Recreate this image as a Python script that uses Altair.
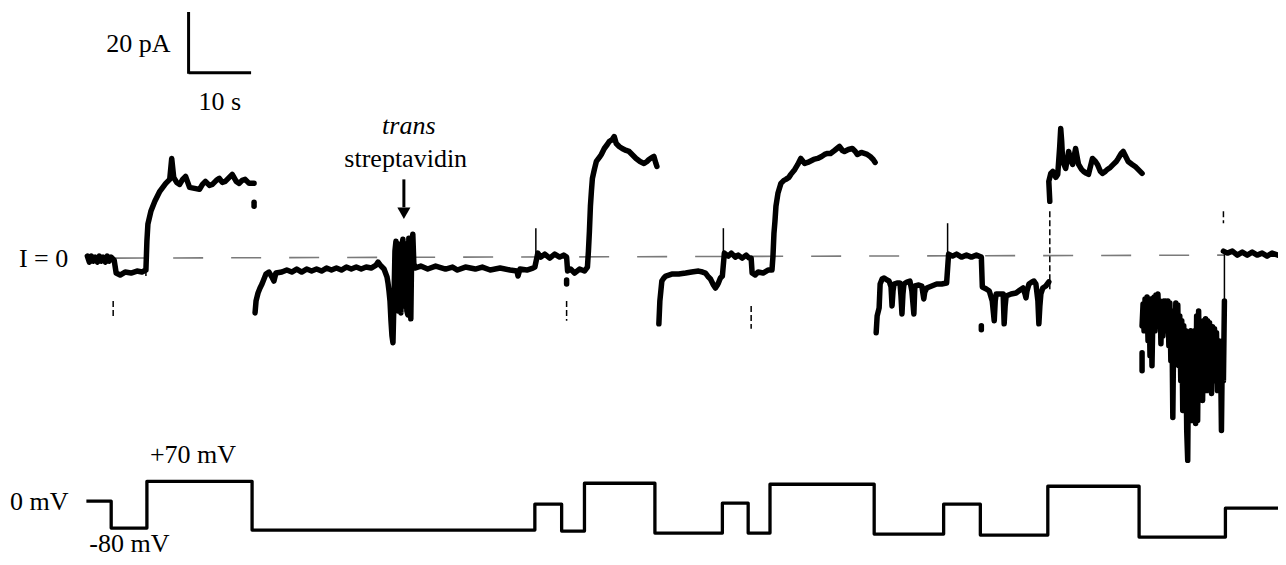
import altair as alt
import pandas as pd

# ---------------- data (x = time units, y = trace units, downward positive) -------------
# current trace, piece by piece
seg_a = [(84,255),(86,261),(88,255),(90,260),(92,256),(94,261),(96,255),(98,260),(100,256),(102,261),(104,255),
         (106,260),(108,256),(111,259),
         (113,272),(117,274),(122,271),(128,272),(134,270),(139,271),(143,269),
         (144,240),(145,223),(148,210),(152,200),(157,190),(160,186),(163,182),(167,178),(169,157),(171,176),
         (174,181),(177,183),(180,178),(183,175),(187,186),(192,187),(197,188),(200,183),(203,180),(207,184),
         (210,183),(214,179),(217,177),(220,181),(223,180),(227,176),(230,173),(234,180),(237,182),(240,179),
         (243,178),(247,182),(252,182)]
seg_b = [(253,312),(254,300),(256,292),(258,287),(260,283),(262,278),(264,273),(267,271),(270,276),(272,280),
         (274,272),(280,271),(285,269),(290,271),(295,268),(300,271),(305,268),(310,270),(315,268),(320,270),
         (325,267),(330,269),(335,267),(340,269),(345,266),(350,268),(355,266),(360,268),(365,266),
         (370,267),(375,264),(377,261),(380,265),(383,268),
         (386,276),(387,282),(388,290),(389,300),(390,320),(391,335),(392,342),(393,300),(394,250),(395,240),
         (396,300),(397,310),(398,243),(399,300),(400,312),(401,245),(402,238),(403,305),(404,300),(405,243),
         (406,310),(407,314),(408,237),(409,300),(410,318),(411,240),(412,233),(413,262),(414,267),
         (420,265),(427,268),(435,265),(445,268),(452,266),(457,269),(465,266),(475,268),(482,266),(490,269),
         (500,267),(510,269),(517,270),(518,275),(520,268),(527,269),(533,267),(535,266),
         (538,252),(541,256),(545,253),(550,257),(555,253),(560,256),(564,254),(567,256),
         (568,270),(571,268),(575,272),(580,268),(585,270),(588,266),
         (589,250),(590,230),(591,205),(592,190),(593,177),(595,168),(597,160),(600,156),(602,153),(605,147),
         (608,143),(610,140),(613,138),(615,135),(617,142),(620,145),(623,147),(627,149),(630,150),(634,154),
         (637,157),(641,160),(645,162),(648,160),(650,158),(653,156),(655,155),(657,162),(658,165)]
seg_c = [(660,323),(661,300),(662,290),(663,280),(665,277),(667,275),(670,274),(673,273),(680,273),(687,272),
         (693,271),(700,270),(704,271),(707,272),(710,276),(712,278),(715,284),(717,287),(719,284),(720,282),
         (722,277),(724,275),
         (726,252),(730,255),(733,252),(737,256),(740,254),(744,257),(748,254),(751,257),(753,257),
         (754,272),(757,274),(760,271),(765,272),(770,269),(774,269),
         (775,255),(776,232),(777,220),(778,205),(780,192),(783,182),(786,179),(788,178),(791,176),(793,173),
         (797,168),(800,163),(803,157),(807,162),(810,161),(812,160),(816,158),(820,157),(824,155),(827,153),
         (830,152),(833,152),(837,149),(842,145),(845,149),(847,150),(851,148),(855,147),(858,150),(860,153),
         (864,151),(867,152),(870,153),(873,155),(876,158),(878,161)]
seg_d = [(879,332),(880,315),(882,307),(883,283),(885,278),(887,277),(890,279),(892,280),(894,286),(895,305),
         (896,290),(897,283),(900,282),(903,282),(904,295),(905,313),(906,293),(907,283),(910,281),(913,280),
         (915,290),(917,313),(918,285),(922,284),(925,285),(927,298),(928,291),(930,287),(935,285),(940,283),
         (945,283),(950,282),
         (952,253),(956,255),(960,253),(965,256),(970,254),(975,256),(980,254),(985,256),
         (986,286),(990,288),(993,290),(996,300),(998,320),(999,300),(1000,293),(1004,293),(1007,293),
         (1008,323),(1009,305),(1010,295),(1015,293),(1020,292),(1024,289),(1027,287),(1029,293),(1030,297),
         (1031,290),(1033,283),(1036,281),(1038,280),(1040,283),(1042,300),(1043,323),(1044,305),(1045,293),
         (1047,287),(1050,285),(1053,281)]
seg_e = [(1054,200),(1053,180),(1055,172),(1057,170),(1060,176),(1062,173),(1064,145),(1065,127),(1066,140),
         (1067,160),(1070,167),(1073,150),(1075,158),(1077,163),(1080,147),(1082,158),(1083,163),(1086,168),
         (1088,170),(1091,172),(1093,173),(1095,165),(1097,157),(1100,160),(1102,163),(1105,170),(1107,172),
         (1110,170),(1112,168),(1115,166),(1118,163),(1121,160),(1123,157),(1126,152),(1128,150),(1131,156),
         (1133,160),(1137,163),(1140,165),(1144,169),(1147,172)]
seg_f_x = list(range(1147, 1231))
seg_f_y = [325,303,330,298,320,296,340,300,355,298,365,310,296,330,294,312,293,325,300,343,
           305,335,300,318,300,330,300,345,302,360,310,417,320,360,302,345,304,365,315,380,
           320,410,325,385,330,430,460,335,395,330,420,340,400,330,423,315,420,310,395,322,
           385,400,320,375,318,390,320,370,322,385,393,326,375,328,380,332,390,340,375,345,
           430,340,380,300]
seg_g = [(1229,250),(1233,252),(1238,250),(1243,254),(1248,251),(1253,254),(1258,251),(1263,254),(1268,252),
         (1273,255),(1278,252),(1284,254)]
dots = [[(252,201),(252,205)], [(567,279),(567,283)], [(985,325),(985,329)], [(1147,352),(1147,370)]]

# thin capacitive transients: (x, y_top, y_bottom)
spikes_solid = [(143,243,275),(536,227,263),(725,227,277),(951,222,283),(1230,253,300)]
spikes_dashed = [(110,300,318),(567,300,320),(753,305,328),(1054,210,290),(1229,210,222)]

# I = 0 reference line
zero_line = [(112,257),(1230,254)]

# voltage protocol: (step start, level)
v_steps = [(83,501),(108,528),(144,481),(250,530),(535,504),(562,531),(585,483),(656,533),(724,503),
           (750,533),(772,484),(877,534),(947,504),(984,535),(1052,486),(1144,537),(1231,508),(1284,508)]

# scale bar
bar_v = (186, 10, 72)
bar_h = (71, 186, 249)
# arrow
arrow = (403, 178, 206)

labels = ["20 pA", "10 s", "streptavidin", "I = 0", "0 mV", "+70 mV", "-80 mV"]
label_x = [103, 196, 343, 15, 6, 147, 86]
label_y = [50, 108, 166, 266, 510, 463, 552]
ital_labels = ["trans"]
ital_x = [381]
ital_y = [132]

# ---------------- build tables ----------------
rows = []
def add(name, pts):
    for i, (x, y) in enumerate(pts):
        rows.append({"seg": name, "i": i, "x": x, "y": y})

add("a", seg_a); add("b", seg_b); add("c", seg_c); add("d", seg_d); add("e", seg_e)
add("f", list(zip(seg_f_x, seg_f_y))); add("g", seg_g)
for k, d in enumerate(dots):
    add(f"dot{k}", d)
trace_df = pd.DataFrame(rows)

v_df = pd.DataFrame([{"i": i, "x": x, "y": y} for i, (x, y) in enumerate(v_steps)])
sp_s = pd.DataFrame([{"x": x, "y": a, "y2": b} for x, a, b in spikes_solid])
sp_d = pd.DataFrame([{"x": x, "y": a, "y2": b} for x, a, b in spikes_dashed])
zero_df = pd.DataFrame([{"x": zero_line[0][0], "y": zero_line[0][1], "x2": zero_line[1][0], "y2": zero_line[1][1]}])
barv_df = pd.DataFrame([{"x": bar_v[0], "y": bar_v[1], "y2": bar_v[2]}])
barh_df = pd.DataFrame([{"y": bar_h[0], "x": bar_h[1], "x2": bar_h[2]}])
arr_df = pd.DataFrame([{"x": arrow[0], "y": arrow[1], "y2": arrow[2]}])
tip_df = pd.DataFrame([{"x": arrow[0], "y": arrow[2] + 6}])
lab_df = pd.DataFrame({"t": labels, "x": label_x, "y": label_y})
ital_df = pd.DataFrame({"t": ital_labels, "x": ital_x, "y": ital_y})

W, H = 1270, 550
xs = alt.Scale(domain=[4, 1284], nice=False, zero=False)
ys = alt.Scale(domain=[6, 558], nice=False, zero=False, reverse=True)
X = lambda f="x": alt.X(f"{f}:Q", scale=xs, axis=None)
Y = lambda f="y": alt.Y(f"{f}:Q", scale=ys, axis=None)

zero = alt.Chart(zero_df).mark_rule(color="#7a7a7a", strokeWidth=1.6, strokeDash=[30, 28]).encode(
    x=X(), y=Y(), x2="x2:Q", y2="y2:Q")

trace = alt.Chart(trace_df).mark_line(color="black", strokeWidth=5.5, strokeJoin="round", strokeCap="round").encode(
    x=X(), y=Y(), detail="seg:N", order="i:Q")

spk1 = alt.Chart(sp_s).mark_rule(color="black", strokeWidth=1.5).encode(x=X(), y=Y(), y2="y2:Q")
spk2 = alt.Chart(sp_d).mark_rule(color="black", strokeWidth=1.5, strokeDash=[6, 3]).encode(x=X(), y=Y(), y2="y2:Q")

volt = alt.Chart(v_df).mark_line(color="black", strokeWidth=3.3, interpolate="step-after", strokeJoin="round").encode(
    x=X(), y=Y(), order="i:Q")

bv = alt.Chart(barv_df).mark_rule(color="black", strokeWidth=3).encode(x=X(), y=Y(), y2="y2:Q")
bh = alt.Chart(barh_df).mark_rule(color="black", strokeWidth=3).encode(y=Y(), x=X(), x2="x2:Q")

arr = alt.Chart(arr_df).mark_rule(color="black", strokeWidth=3).encode(x=X(), y=Y(), y2="y2:Q")
tip = alt.Chart(tip_df).mark_point(shape="triangle-down", filled=True, color="black", size=170, opacity=1).encode(
    x=X(), y=Y())

txt = alt.Chart(lab_df).mark_text(font="Liberation Serif", fontSize=26, align="left", baseline="alphabetic",
                                   color="black").encode(x=X(), y=Y(), text="t:N")
itxt = alt.Chart(ital_df).mark_text(font="Liberation Serif", fontSize=26, fontStyle="italic", align="left",
                                     baseline="alphabetic", color="black").encode(x=X(), y=Y(), text="t:N")

chart = alt.layer(zero, trace, spk1, spk2, volt, bv, bh, arr, tip, txt, itxt).properties(
    width=W, height=H, padding=0, autosize="none", background="white"
).configure_view(strokeWidth=0)

chart.save("out.html", embed_options={"renderer": "svg", "actions": False})
